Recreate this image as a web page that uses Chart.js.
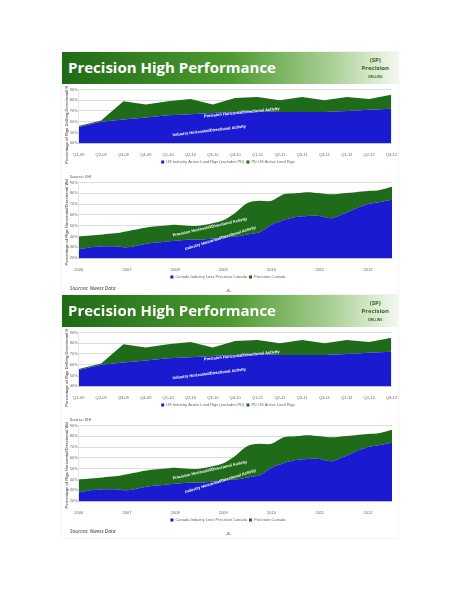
<!DOCTYPE html>
<html><head><meta charset="utf-8">
<script src="https://cdn.jsdelivr.net/npm/chart.js@4"></script>
<style>
body{margin:0;background:#fff;font-family:"Open Sans",sans-serif;}
.slide{position:absolute;left:62px;width:336px;height:243px;background:#fff;box-shadow:0 0 1px #bbb;}
.hdr{position:absolute;left:0;top:0;width:336px;height:32px;background:linear-gradient(90deg,#1f6a17,#4d9a30 50%,#a9cf95 80%,#f4f8f0);}
.hdr span{position:absolute;left:6px;top:5px;color:#fff;font-weight:bold;font-size:15px;}
.logo{position:absolute;right:6px;top:3px;color:#2c6a1c;font-size:6px;font-weight:bold;text-align:center;padding:1px 3px;}
.c1{position:absolute;left:0;top:34px;width:336px;height:88px;}
.c2{position:absolute;left:0;top:127px;width:336px;height:110px;}
.src{position:absolute;font-size:4px;color:#333;}
</style></head><body>
<script>
const q = ["Q1-09","Q2-09","Q3-09","Q4-09","Q1-10","Q2-10","Q3-10","Q4-10","Q1-11","Q2-11","Q3-11","Q4-11","Q1-12","Q2-12","Q3-12"];
const usIndustry = [55,60,62,64,66,67,68,69,70,69,69,69,70,71,72];
const usPrecision = [56,61,79,76,79,81,76,82,83,80,83,80,83,81,85];
const caQuarters = ["2006","","","","2007","","","","2008","","","","2009","","","","2010","","","","2011","","","","2012","",""];
const caIndustry = [28,30,31,31,30,32,34,35,36,37,37,38,39,40,42,44,51,55,58,59,59,57,61,66,70,72,74];
const caPrecision = [40,41,42,43,45,47,49,50,51,50,50,52,55,62,71,73,73,79,80,81,80,79,80,81,82,83,86];

const labelPlugin = {
  id: "areaLabels",
  afterDatasetsDraw(chart, args, opts) {
    const c = chart.ctx, a = chart.chartArea;
    c.save();
    c.fillStyle = "#fff"; c.font = "bold 4px Arial";
    opts.items.forEach(it => {
      c.save();
      c.translate(a.left + a.width * it.x, a.top + a.height * it.y);
      c.rotate(it.r);
      c.fillText(it.t, 0, 0);
      c.restore();
    });
    c.restore();
  }
};

function makeChart(canvas, labels, lower, upper, names, ymin, ymax, step, tension, ytitle, items) {
  new Chart(canvas, {
    type: "line",
    data: { labels, datasets: [
      { label: names[0], data: lower, fill: "origin", backgroundColor: "#1a1ad0", borderWidth: 0, pointRadius: 0, tension },
      { label: names[1], data: upper, fill: "-1", backgroundColor: "#1f6b1a", borderWidth: 0, pointRadius: 0, tension }
    ]},
    options: {
      responsive: false, animation: false,
      layout: { padding: { left: 2, right: 6, top: 2 } },
      plugins: {
        legend: { position: "bottom", labels: { boxWidth: 3, boxHeight: 3, font: { size: 4 }, padding: 2 } },
        tooltip: { enabled: false },
        areaLabels: { items }
      },
      scales: {
        x: { grid: { display: false }, ticks: { font: { size: 4 }, autoSkip: false, maxRotation: 0, padding: 1 } },
        y: { min: ymin, max: ymax, ticks: { stepSize: step, font: { size: 4 }, callback: v => v + "%", padding: 1 },
             grid: { color: "#ddd", drawTicks: false },
             title: { display: true, text: ytitle, font: { size: 4, weight: "bold" }, padding: 0 } }
      }
    },
    plugins: [labelPlugin]
  });
}

[52, 295].forEach(top => {
  const s = document.createElement("div");
  s.className = "slide"; s.style.top = top + "px";
  s.innerHTML = '<div class="hdr"><span>Precision High Performance</span><div class="logo">(ЅP)<br>Precision<br><span style="position:static;font-size:3px;color:#2c6a1c">DRILLING</span></div></div>' +
    '<canvas class="c1" width="336" height="88"></canvas>' +
    '<div class="src" style="left:8px;top:122px">Source: EHI</div>' +
    '<canvas class="c2" width="336" height="110"></canvas>' +
    '<div class="src" style="left:8px;top:233px;font-size:5px;font-style:italic">Sources: Nwess Data</div>' +
    '<div class="src" style="left:164px;top:236px">-8-</div>';
  document.body.appendChild(s);
  const cs = s.querySelectorAll("canvas");
  makeChart(cs[0], q, usIndustry, usPrecision,
    ["US Industry Active Land Rigs (excludes PD)", "PD US Active Land Rigs"], 40, 90, 5, 0,
    "Percentage of Rigs Drilling Directional/ Horizontal",
    [{ t: "Precision Horizontal/Directional Activity", x: 0.4, y: 0.5, r: -0.1 },
     { t: "Industry Horizontal/Directional Activity", x: 0.3, y: 0.85, r: -0.12 }]);
  makeChart(cs[1], caQuarters, caIndustry, caPrecision,
    ["Canada Industry Less Precision Canada", "Precision Canada"], 20, 90, 10, 0.3,
    "Percentage of Rigs Horizontal/Directional Wells",
    [{ t: "Precision Horizontal/Directional Activity", x: 0.3, y: 0.7, r: -0.22 },
     { t: "Industry Horizontal/Directional Activity", x: 0.34, y: 0.88, r: -0.3 }]);
});
</script>
</body></html>
